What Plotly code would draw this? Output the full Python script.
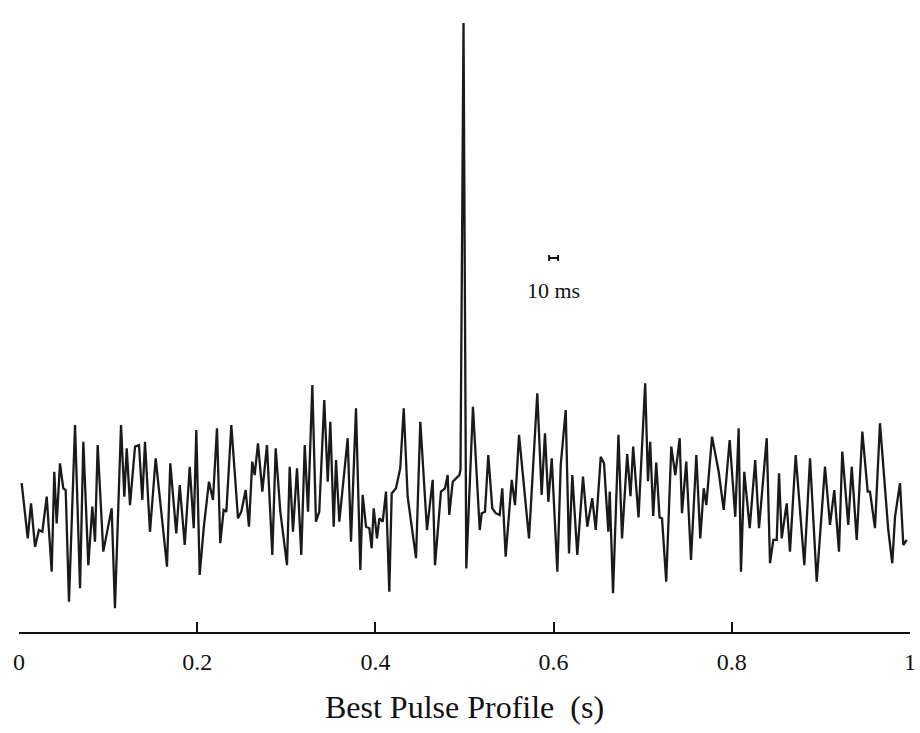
import plotly.graph_objects as go

# Time (s) of each profile vertex
time_s = [
    0.0030, 0.0098, 0.0135, 0.0180, 0.0224, 0.0262, 0.0311, 0.0367, 0.0396, 0.0423,
    0.0460, 0.0497, 0.0524, 0.0561, 0.0629, 0.0685, 0.0722, 0.0778, 0.0823, 0.0853,
    0.0883, 0.0946, 0.1040, 0.1077, 0.1145, 0.1182, 0.1209, 0.1246, 0.1302, 0.1347,
    0.1384, 0.1414, 0.1470, 0.1534, 0.1661, 0.1698, 0.1765, 0.1804, 0.1860, 0.1916,
    0.1961, 0.1990, 0.2028, 0.2073, 0.2132, 0.2177, 0.2222, 0.2259, 0.2297, 0.2327,
    0.2383, 0.2458, 0.2495, 0.2544, 0.2581, 0.2618, 0.2645, 0.2682, 0.2731, 0.2783,
    0.2843, 0.2881, 0.2933, 0.3008, 0.3038, 0.3075, 0.3120, 0.3168, 0.3207, 0.3244,
    0.3292, 0.3333, 0.3370, 0.3426, 0.3465, 0.3494, 0.3532, 0.3558, 0.3595, 0.3689,
    0.3726, 0.3782, 0.3831, 0.3857, 0.3895, 0.3932, 0.3958, 0.3981, 0.4018, 0.4044,
    0.4082, 0.4119, 0.4156, 0.4183, 0.4231, 0.4279, 0.4318, 0.4362, 0.4456, 0.4504,
    0.4579, 0.4643, 0.4669, 0.4736, 0.4781, 0.4811, 0.4829, 0.4868, 0.4942, 0.4955,
    0.4989, 0.5020, 0.5095, 0.5171, 0.5193, 0.5230, 0.5267, 0.5312, 0.5350, 0.5395,
    0.5424, 0.5462, 0.5530, 0.5567, 0.5612, 0.5724, 0.5817, 0.5866, 0.5903, 0.5941,
    0.5979, 0.6042, 0.6080, 0.6136, 0.6173, 0.6210, 0.6266, 0.6330, 0.6378, 0.6434,
    0.6473, 0.6529, 0.6566, 0.6614, 0.6630, 0.6667, 0.6728, 0.6768, 0.6826, 0.6863,
    0.6893, 0.6953, 0.7028, 0.7059, 0.7084, 0.7118, 0.7152, 0.7189, 0.7217, 0.7264,
    0.7321, 0.7366, 0.7415, 0.7441, 0.7489, 0.7542, 0.7602, 0.7646, 0.7685, 0.7714,
    0.7778, 0.7853, 0.7909, 0.7976, 0.8039, 0.8077, 0.8103, 0.8140, 0.8201, 0.8263,
    0.8305, 0.8392, 0.8429, 0.8466, 0.8504, 0.8530, 0.8560, 0.8616, 0.8653, 0.8717,
    0.8814, 0.8878, 0.8953, 0.9046, 0.9102, 0.9150, 0.9203, 0.9240, 0.9307, 0.9346,
    0.9402, 0.9465, 0.9525, 0.9551, 0.9607, 0.9663, 0.9756, 0.9801, 0.9832, 0.9888,
    0.9925, 0.9963,
]

# Profile amplitude (arbitrary units) at each vertex
amplitude = [
    0.56, -1.28, -0.11, -1.56, -1.00, -1.06, 0.11, -2.39, 0.94, -0.78,
    1.22, 0.39, 0.33, -3.39, 2.50, -2.94, 1.94, -2.17, -0.22, -1.39,
    1.83, -1.72, -0.28, -3.61, 2.50, 0.11, 1.72, -0.17, 1.78, 1.83,
    0.00, 1.94, -1.06, 1.39, -2.22, 1.22, -1.11, 0.50, -1.50, 1.11,
    -0.94, 2.33, -2.50, -0.94, 0.61, 0.00, 2.39, -1.44, -0.33, -0.39,
    2.50, -0.61, -0.39, 0.33, -0.89, 1.28, 0.83, 1.89, 0.28, 1.83,
    -1.83, 1.72, -0.39, -2.17, 1.11, -1.06, 1.06, -1.83, 1.83, -0.39,
    3.83, -0.72, -0.39, 3.33, 0.61, 2.61, -0.89, 1.33, -0.72, 2.06,
    -1.39, 3.06, -2.33, 0.17, -0.89, -0.94, -1.61, -0.28, -1.28, -0.61,
    -0.72, 0.28, -3.06, 0.22, 0.39, 1.06, 3.06, 0.11, -1.94, 2.61,
    -1.00, 0.67, -2.17, 0.28, 0.39, 0.83, -0.50, 0.61, 0.83, 1.00,
    15.90, -2.28, 3.11, -1.00, -0.44, -0.39, 1.50, -0.28, -0.44, -0.50,
    0.39, -1.89, 0.67, -0.17, 2.17, -1.28, 3.56, 0.17, 2.22, -0.06,
    1.39, -2.39, 1.17, 3.00, -1.78, 0.83, -1.83, 0.78, -0.89, 0.06,
    -1.00, 1.44, 1.22, -1.06, 0.28, -3.11, 2.17, -1.28, 1.53, 0.13,
    1.78, -0.58, 3.89, 0.63, 1.94, -0.53, 1.25, -0.58, -0.61, -2.72,
    1.78, 0.83, 2.06, -0.44, 1.28, -2.00, 1.50, -1.28, 0.39, -0.17,
    2.11, 0.94, -0.33, 2.00, -0.56, 2.39, -2.39, 0.94, -0.94, 1.33,
    -0.94, 2.06, -2.11, -1.33, -1.33, 0.89, -1.28, -0.11, -1.72, 1.50,
    -2.17, 1.39, -2.72, 1.11, -0.83, 0.33, -1.72, 1.61, -0.83, 1.11,
    -1.33, 2.28, 0.28, 0.28, -0.94, 2.56, -1.00, -2.11, -0.56, 0.56,
    -1.50, -1.33,
]

# 10 ms scale bar
scale_center = [0.600]
scale_level = [8.07]
scale_halfwidth = [0.005]
scale_label = "10 ms"
label_level = 7.0

tick_vals = [0, 0.2, 0.4, 0.6, 0.8, 1]
tick_text = ["0", "0.2", "0.4", "0.6", "0.8", "1"]

serif = "Liberation Serif"

fig = go.Figure()
fig.add_trace(go.Scatter(
    x=time_s, y=amplitude, mode="lines",
    line=dict(color="#1a1a1a", width=2.3),
    showlegend=False, hoverinfo="skip",
))
fig.add_trace(go.Scatter(
    x=scale_center, y=scale_level, mode="markers",
    marker=dict(size=1, color="rgba(0,0,0,0)"),
    error_x=dict(type="data", array=scale_halfwidth, symmetric=True,
                 color="#111", thickness=2, width=3),
    showlegend=False, hoverinfo="skip",
))
fig.add_annotation(
    x=scale_center[0], y=label_level, text=scale_label, showarrow=False,
    font=dict(family=serif, size=22, color="#111"),
    xanchor="center", yanchor="middle",
)

fig.update_layout(
    width=920, height=733,
    margin=dict(l=19, r=10, t=0, b=101),
    paper_bgcolor="white", plot_bgcolor="white",
    xaxis=dict(
        range=[0, 1], tickvals=tick_vals, ticktext=tick_text,
        showgrid=False, zeroline=False,
        showline=True, linecolor="#111", linewidth=2,
        ticks="inside", ticklen=10, tickwidth=1.5, tickcolor="#111",
        ticklabelstandoff=7,
        tickfont=dict(family=serif, size=24, color="#111"),
        title=dict(text="Best Pulse Profile\u00a0\u00a0(s)",
                   font=dict(family=serif, size=32, color="#111"),
                   standoff=22),
    ),
    yaxis=dict(range=[-4.4, 16.667], visible=False),
)

fig.write_html("out.html")
